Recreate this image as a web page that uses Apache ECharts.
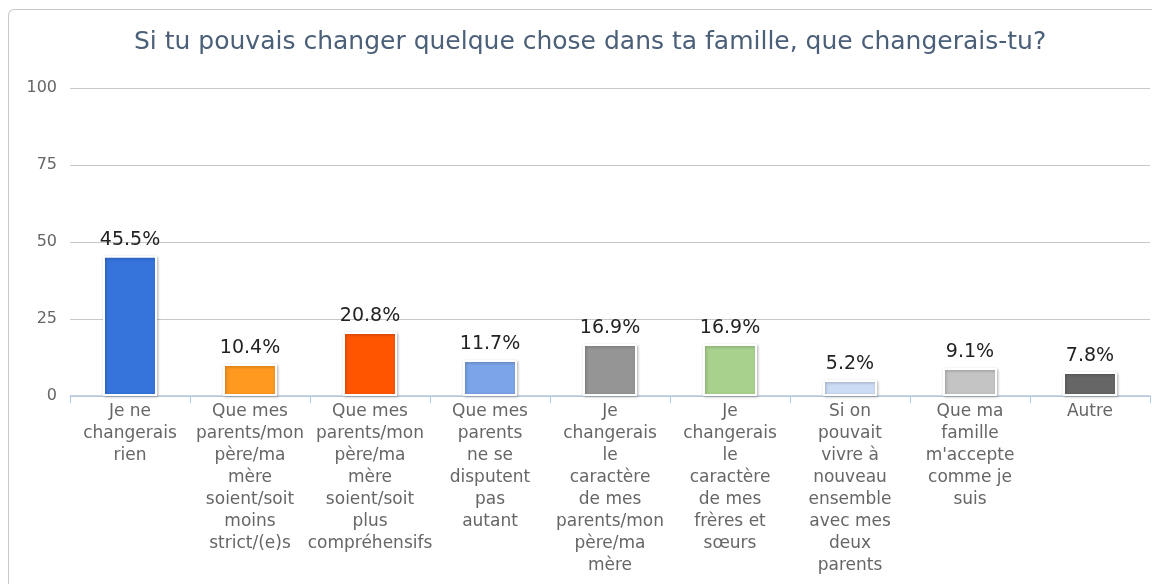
<!DOCTYPE html>
<html>
<head>
<meta charset="utf-8">
<script src="https://cdn.jsdelivr.net/npm/echarts@6/dist/echarts.min.js"></script>
<style>
  html, body { margin: 0; padding: 0; overflow: hidden; background: #fff; }
  #frame {
    position: absolute; left: 8px; top: 9px; width: 1300px; height: 700px;
    border-left: 1px solid #c8c8c8; border-top: 1px solid #c8c8c8;
    border-top-left-radius: 6px;
  }
  #chart { position: absolute; left: 0; top: 0; width: 1152px; height: 584px; }
</style>
</head>
<body>
<div id="frame"></div>
<div id="chart"></div>
<script>
const categories = [
  "Je ne\nchangerais\nrien",
  "Que mes\nparents/mon\npère/ma\nmère\nsoient/soit\nmoins\nstrict/(e)s",
  "Que mes\nparents/mon\npère/ma\nmère\nsoient/soit\nplus\ncompréhensifs",
  "Que mes\nparents\nne se\ndisputent\npas\nautant",
  "Je\nchangerais\nle\ncaractère\nde mes\nparents/mon\npère/ma\nmère",
  "Je\nchangerais\nle\ncaractère\nde mes\nfrères et\nsœurs",
  "Si on\npouvait\nvivre à\nnouveau\nensemble\navec mes\ndeux\nparents",
  "Que ma\nfamille\nm'accepte\ncomme je\nsuis",
  "Autre"
];
const values = [45.5, 10.4, 20.8, 11.7, 16.9, 16.9, 5.2, 9.1, 7.8];
const yTicks = [0, 25, 50, 75, 100];

// one colour per bar
const palette = ["#3673db", "#ff9920", "#ff5500", "#7ba4e8", "#959595",
                 "#a8d18e", "#ccdcf5", "#c4c4c4", "#666666"];

const font = "DejaVu Sans";

const chart = echarts.init(document.getElementById("chart"));

const option = {
  animation: false,
  title: {
    text: "Si tu pouvais changer quelque chose dans ta famille, que changerais-tu?",
    left: 129,
    top: 25,
    textStyle: { fontFamily: font, fontSize: 25, fontWeight: "normal", color: "#4b6078" }
  },
  grid: { left: 70, right: 2, top: 88, bottom: 188, containLabel: false },
  xAxis: {
    type: "category",
    data: categories,
    axisLine: { lineStyle: { color: "#b5c9e0", width: 1.5 } },
    axisTick: { show: true, length: 7, lineStyle: { color: "#b5c9e0" } },
    axisLabel: {
      interval: 0,
      margin: 5,
      fontFamily: font,
      fontSize: 17,
      lineHeight: 22,
      color: "#666666",
      align: "center"
    }
  },
  yAxis: {
    type: "value",
    min: yTicks[0],
    max: yTicks[yTicks.length - 1],
    interval: 25,
    axisLine: { show: false },
    axisTick: { show: false },
    axisLabel: { fontFamily: font, fontSize: 16, color: "#666666", margin: 13 },
    splitLine: { lineStyle: { color: "#c8c8c8", width: 1 } }
  },
  series: [{
    type: "bar",
    barWidth: 54,
    data: values.map((v, i) => ({
      value: v,
      itemStyle: {
        color: palette[i],
        borderColor: "#ffffff",
        borderWidth: 2,
        shadowColor: "rgba(0,0,0,0.25)",
        shadowBlur: 3,
        shadowOffsetX: 1,
        shadowOffsetY: 1
      }
    })),
    label: {
      show: true,
      position: "top",
      distance: 6,
      fontFamily: font,
      fontSize: 19,
      color: "#222222",
      formatter: (p) => p.value.toFixed(1) + "%"
    }
  }]
};

chart.setOption(option);
</script>
</body>
</html>
